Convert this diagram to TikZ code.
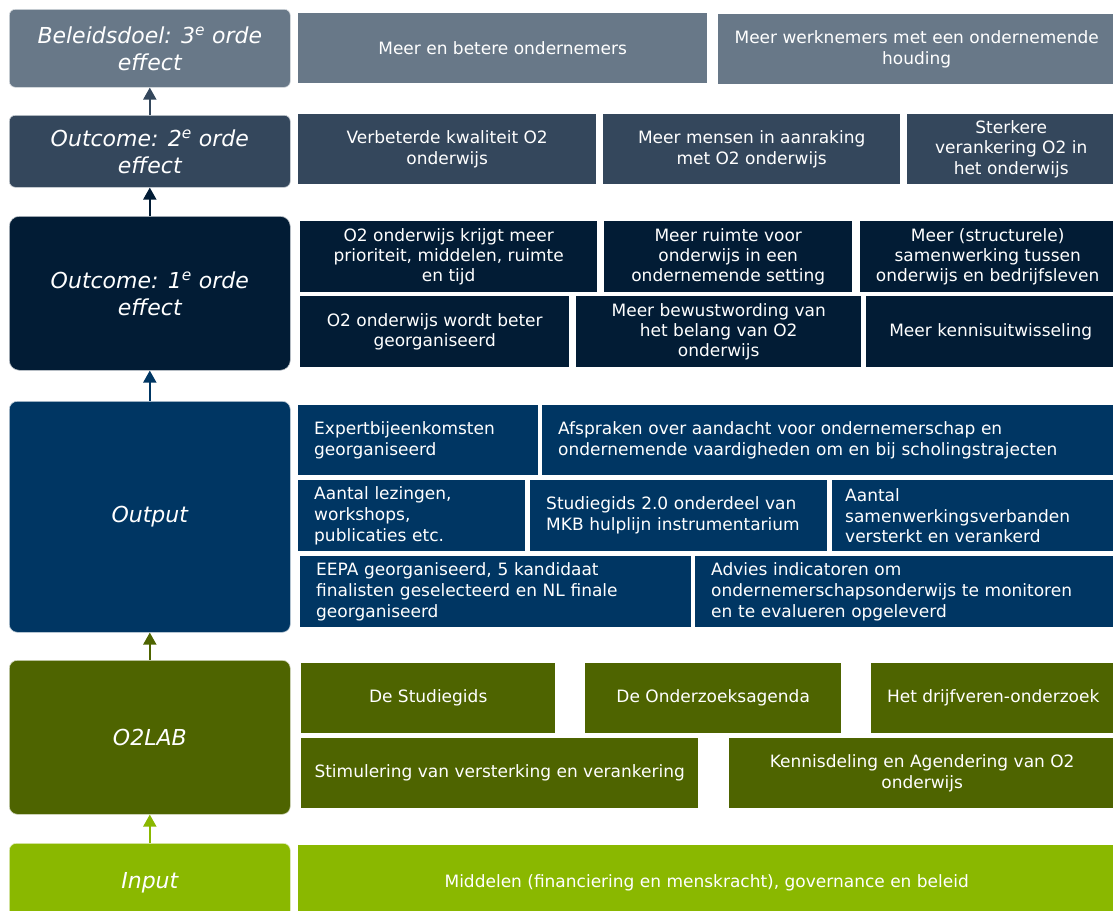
\documentclass[tikz,border=0pt]{standalone}
\usepackage{fontspec}
\setmainfont{DejaVu Sans}
\usetikzlibrary{arrows.meta}
\definecolor{cA}{HTML}{687888}
\definecolor{cB}{HTML}{34475C}
\definecolor{cC}{HTML}{021C35}
\definecolor{cD}{HTML}{003663}
\definecolor{cE}{HTML}{4E6400}
\definecolor{cF}{HTML}{8AB800}
\begin{document}
\begin{tikzpicture}[x=1pt,y=-1pt,
  R/.style n args={4}{anchor=north west, at={(#1,#2)}, minimum width=#3-#1, minimum height=#4-#2},
  cbox/.style={inner sep=0pt, text=white, align=center, font=\fontsize{17}{20.3}\selectfont},
  lbox/.style={inner xsep=16pt, inner ysep=0pt, text=white, align=left, font=\fontsize{17}{20.8}\selectfont},
  lab/.style={inner sep=0pt, text=white, align=center, draw=white!75!#1, fill=#1, line width=0.6pt, font=\fontsize{22}{27}\selectfont\itshape},
  arr/.style={line width=2pt, -{Triangle[width=13pt,length=12pt]}}
]
\useasboundingbox (0,0) rectangle (1113,910);
\clip (0,0) rectangle (1113,910);
\fill[white] (0,0) rectangle (1113,910);

% left column
\node[lab=cA, rounded corners=6pt, R={9}{9}{290}{87}] (L3) {Beleidsdoel: 3\textsuperscript{e} orde\\effect};
\node[lab=cB, rounded corners=6pt, R={9}{115}{290}{187}] (L2) {Outcome: 2\textsuperscript{e} orde\\effect};
\node[lab=cC, rounded corners=10pt, R={9}{216}{290}{370}] (L1) {Outcome: 1\textsuperscript{e} orde\\effect};
\node[lab=cD, rounded corners=8pt, R={9}{401}{290}{632}] (LO) {Output};
\node[lab=cE, rounded corners=8pt, R={9}{660}{290}{814}] (LL) {O2LAB};
\node[lab=cF, rounded corners=7pt, R={9}{843}{290}{921}] (LI) {Input};

\draw[arr, cB] (L2.north) -- (L3.south);
\draw[arr, cC] (L1.north) -- (L2.south);
\draw[arr, cD] (LO.north) -- (L1.south);
\draw[arr, cE] (LL.north) -- (LO.south);
\draw[arr, cF] (LI.north) -- (LL.south);

% row A
\node[cbox, fill=cA, R={298}{13}{707}{83}] (a1) {Meer en betere ondernemers};
\node[cbox, fill=cA, R={718}{14}{1115}{84}] (a2) {Meer werknemers met een ondernemende\\houding};
% row B
\node[cbox, fill=cB, R={298}{114}{596}{184}] (b1) {Verbeterde kwaliteit O2\\onderwijs};
\node[cbox, fill=cB, R={603}{114}{900}{184}] (b2) {Meer mensen in aanraking\\met O2 onderwijs};
\node[cbox, fill=cB, R={907}{114}{1115}{184}] (b3) {Sterkere\\verankering O2 in\\het onderwijs};
% row C
\node[cbox, fill=cC, R={300}{221}{597}{292}] (c1) {O2 onderwijs krijgt meer\\prioriteit, middelen, ruimte\\en tijd};
\node[cbox, fill=cC, R={604}{221}{852}{292}] (c2) {Meer ruimte voor\\onderwijs in een\\ondernemende setting};
\node[cbox, fill=cC, R={860}{221}{1115}{292}] (c3) {Meer (structurele)\\samenwerking tussen\\onderwijs en bedrijfsleven};
\node[cbox, fill=cC, R={300}{296}{569}{367}] (c4) {O2 onderwijs wordt beter\\georganiseerd};
\node[cbox, fill=cC, R={576}{296}{861}{367}] (c5) {Meer bewustwording van\\het belang van O2\\onderwijs};
\node[cbox, fill=cC, R={866}{296}{1115}{367}] (c6) {Meer kennisuitwisseling};
% row D
\node[lbox, fill=cD, text width=208pt, R={298}{405}{538}{475}] (d1) {Expertbijeenkomsten\\georganiseerd};
\node[lbox, fill=cD, text width=541pt, R={542}{405}{1115}{475}] (d2) {Afspraken over aandacht voor ondernemerschap en\\ondernemende vaardigheden om en bij scholingstrajecten};
\node[lbox, fill=cD, text width=195pt, R={298}{480}{525}{551}] (d3) {Aantal lezingen,\\workshops,\\publicaties etc.};
\node[lbox, fill=cD, text width=265pt, R={530}{480}{827}{551}] (d4) {Studiegids 2.0 onderdeel van\\MKB hulplijn instrumentarium};
\node[lbox, fill=cD, inner xsep=13pt, text width=257pt, R={832}{480}{1115}{551}] (d5) {Aantal\\samenwerkingsverbanden\\versterkt en verankerd};
\node[lbox, fill=cD, text width=359pt, R={300}{556}{691}{627}] (d6) {EEPA georganiseerd, 5 kandidaat\\finalisten geselecteerd en NL finale\\georganiseerd};
\node[lbox, fill=cD, text width=388pt, R={695}{556}{1115}{627}] (d7) {Advies indicatoren om\\ondernemerschapsonderwijs te monitoren\\en te evalueren opgeleverd};
% row E
\node[cbox, fill=cE, R={301}{663}{555}{733}] (e1) {De Studiegids};
\node[cbox, fill=cE, R={585}{663}{841}{733}] (e2) {De Onderzoeksagenda};
\node[cbox, fill=cE, R={871}{663}{1115}{733}] (e3) {Het drijfveren-onderzoek};
\node[cbox, fill=cE, R={301}{738}{698}{808}] (e4) {Stimulering van versterking en verankering};
\node[cbox, fill=cE, R={729}{738}{1115}{808}] (e5) {Kennisdeling en Agendering van O2\\onderwijs};
% row F
\node[cbox, fill=cF, R={298}{845}{1115}{920}] (f1) {Middelen (financiering en menskracht), governance en beleid};
\end{tikzpicture}
\end{document}
